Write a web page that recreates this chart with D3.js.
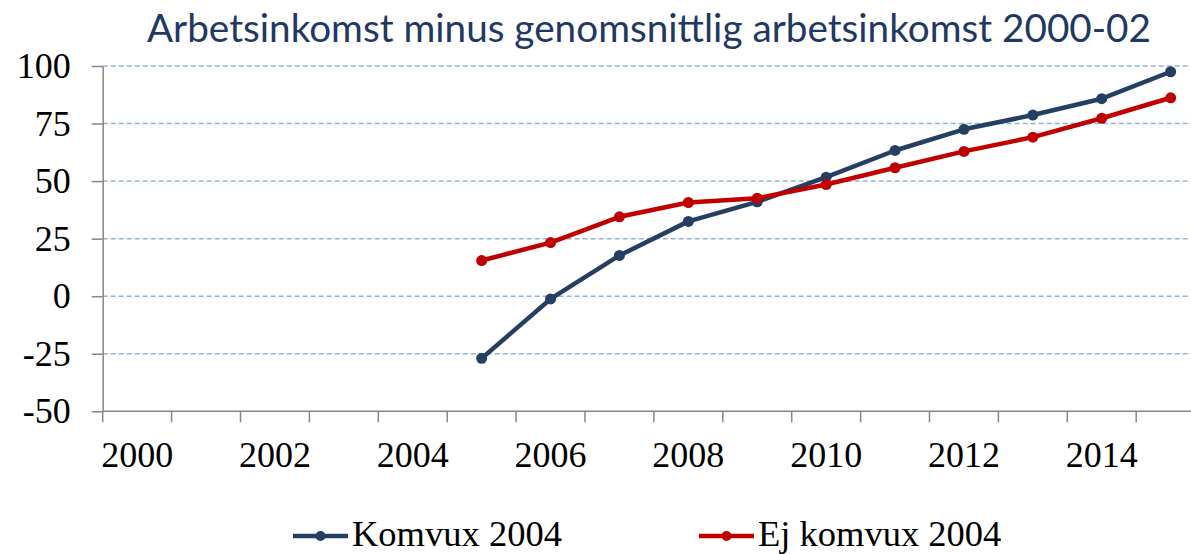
<!DOCTYPE html>
<html>
<head>
<meta charset="utf-8">
<script src="https://cdn.jsdelivr.net/npm/d3@7"></script>
<style>
  body { margin: 0; background: #fff; }
  svg { display: block; }
</style>
</head>
<body>
<svg></svg>
<script>
var years = [2000, 2001, 2002, 2003, 2004, 2005, 2006, 2007, 2008, 2009, 2010, 2011, 2012, 2013, 2014, 2015];
var yearLabels = [2000, 2002, 2004, 2006, 2008, 2010, 2012, 2014];
var yTicks = [-50, -25, 0, 25, 50, 75, 100];
var gridTicks = [-25, 0, 25, 50, 75, 100];

var komvux = [null, null, null, null, null, -27, -1.2, 17.7, 32.5, 41, 51.7, 63.3, 72.5, 78.7, 85.8, 97.5];
var ejKomvux = [null, null, null, null, null, 15.5, 23.3, 34.5, 40.7, 42.6, 48.5, 55.8, 62.9, 69.1, 77.3, 86.2];

var seriesNames = ['Komvux 2004', 'Ej komvux 2004'];
var seriesColors = ['#253f62', '#c00000'];

var width = 1191,
  height = 554,
  left = 102.7,
  step = 68.9;

var svg = d3.select('svg')
  .attr('width', width)
  .attr('height', height);

var x = d3.scaleBand()
  .domain(years)
  .range([left, left + years.length * step])
  .padding(0);

var y = d3.scaleLinear()
  .domain([-50, 100])
  .range([411.3, 66]);

var serif = '"Liberation Serif", "Times New Roman", serif';

// title
svg.append('text')
  .attr('x', 649)
  .attr('y', 41.7)
  .attr('text-anchor', 'middle')
  .attr('textLength', 1004)
  .attr('lengthAdjust', 'spacingAndGlyphs')
  .style('font-family', 'Lato, "Open Sans", sans-serif')
  .style('font-size', '38px')
  .style('fill', '#1f3864')
  .text('Arbetsinkomst minus genomsnittlig arbetsinkomst 2000-02');

// gridlines
svg.append('g').selectAll('line')
  .data(gridTicks)
  .join('line')
  .attr('x1', left)
  .attr('x2', width)
  .attr('y1', d => y(d))
  .attr('y2', d => y(d))
  .attr('stroke', '#95b3d7')
  .attr('stroke-width', 1.5)
  .attr('stroke-dasharray', '5,3');

// y axis
var yAxis = svg.append('g')
  .attr('transform', 'translate(' + left + ',0)')
  .call(d3.axisLeft(y).tickValues(yTicks).tickFormat(d => String(d))
    .tickSize(11).tickPadding(21).tickSizeOuter(0));
yAxis.select('.domain').attr('stroke', '#868686').attr('stroke-width', 1.5);
yAxis.selectAll('.tick line').attr('stroke', '#868686').attr('stroke-width', 1.5);
yAxis.selectAll('text')
  .style('font-family', serif)
  .style('font-size', '36px')
  .style('fill', '#000');

// x axis
var xAxis = svg.append('g')
  .attr('transform', 'translate(0,' + y(-50) + ')')
  .call(d3.axisBottom(x).tickValues(yearLabels).tickSize(0).tickPadding(30).tickSizeOuter(0));
xAxis.select('.domain').remove();
xAxis.selectAll('text')
  .style('font-family', serif)
  .style('font-size', '36px')
  .style('fill', '#000');
xAxis.append('line')
  .attr('x1', left)
  .attr('x2', width)
  .attr('stroke', '#868686')
  .attr('stroke-width', 1.5);
xAxis.append('g').selectAll('line')
  .data(years)
  .join('line')
  .attr('x1', d => x(d))
  .attr('x2', d => x(d))
  .attr('y1', 0)
  .attr('y2', 11)
  .attr('stroke', '#868686')
  .attr('stroke-width', 1.5);

// lines
var line = d3.line()
  .defined(d => d.v != null)
  .x(d => x(d.year) + x.bandwidth() / 2)
  .y(d => y(d.v));

[komvux, ejKomvux].forEach(function(values, i) {
  var pts = years.map((yr, j) => ({ year: yr, v: values[j] }));
  svg.append('path')
    .datum(pts)
    .attr('fill', 'none')
    .attr('stroke', seriesColors[i])
    .attr('stroke-width', 4.5)
    .attr('stroke-linejoin', 'round')
    .attr('d', line);
  svg.append('g').selectAll('circle')
    .data(pts.filter(d => d.v != null))
    .join('circle')
    .attr('cx', d => x(d.year) + x.bandwidth() / 2)
    .attr('cy', d => y(d.v))
    .attr('r', 5.5)
    .attr('fill', seriesColors[i]);
});

// legend
var legendX = [293, 699];
var legend = svg.append('g').selectAll('g')
  .data(seriesNames)
  .join('g')
  .attr('transform', (d, i) => 'translate(' + legendX[i] + ',536)');
legend.append('line')
  .attr('x1', 0)
  .attr('x2', 55)
  .attr('stroke', (d, i) => seriesColors[i])
  .attr('stroke-width', 4.5);
legend.append('circle')
  .attr('cx', 27.5)
  .attr('r', 5)
  .attr('fill', (d, i) => seriesColors[i]);
legend.append('text')
  .attr('x', 59)
  .attr('y', 10)
  .style('font-family', serif)
  .style('font-size', '36.5px')
  .style('fill', '#000')
  .text(d => d);
</script>
</body>
</html>
